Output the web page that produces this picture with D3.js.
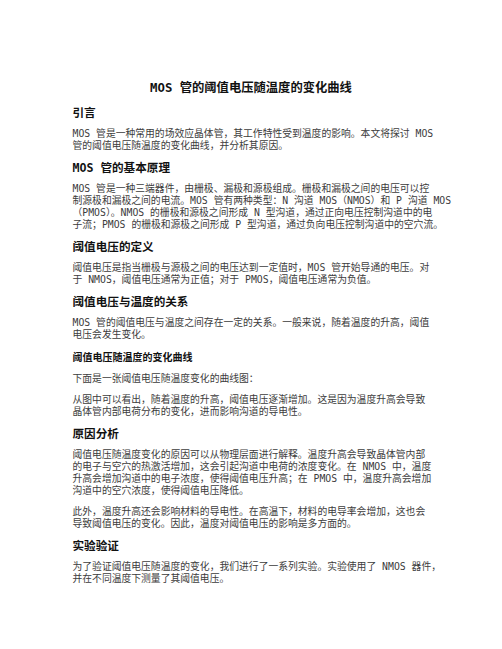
<!DOCTYPE html>
<html>
<head>
<meta charset="utf-8">
<script src="https://cdn.jsdelivr.net/npm/d3@7"></script>
<style>
  html, body { margin: 0; padding: 0; background: #fff; }
</style>
</head>
<body>
<div id="page"></div>
<script>
// page text, one array per block, lines kept as they wrap in the original
const title = "MOS 管的阈值电压随温度的变化曲线"

const introHead = "引言"
const introLines = [
    "MOS 管是一种常用的场效应晶体管，其工作特性受到温度的影响。本文将探讨 MOS",
    "管的阈值电压随温度的变化曲线，并分析其原因。"
]

const basicHead = "MOS 管的基本原理"
const basicLines = [
    "MOS 管是一种三端器件，由栅极、漏极和源极组成。栅极和漏极之间的电压可以控",
    "制源极和漏极之间的电流。MOS 管有两种类型：N 沟道 MOS（NMOS）和 P 沟道 MOS",
    "（PMOS）。NMOS 的栅极和源极之间形成 N 型沟道，通过正向电压控制沟道中的电",
    "子流；PMOS 的栅极和源极之间形成 P 型沟道，通过负向电压控制沟道中的空穴流。"
]

const defHead = "阈值电压的定义"
const defLines = [
    "阈值电压是指当栅极与源极之间的电压达到一定值时，MOS 管开始导通的电压。对",
    "于 NMOS，阈值电压通常为正值；对于 PMOS，阈值电压通常为负值。"
]

const relHead = "阈值电压与温度的关系"
const relLines = [
    "MOS 管的阈值电压与温度之间存在一定的关系。一般来说，随着温度的升高，阈值",
    "电压会发生变化。"
]

const curveHead = "阈值电压随温度的变化曲线"
const curveLines = ["下面是一张阈值电压随温度变化的曲线图："]
const curveNoteLines = [
    "从图中可以看出，随着温度的升高，阈值电压逐渐增加。这是因为温度升高会导致",
    "晶体管内部电荷分布的变化，进而影响沟道的导电性。"
]

const causeHead = "原因分析"
const causeLines = [
    "阈值电压随温度变化的原因可以从物理层面进行解释。温度升高会导致晶体管内部",
    "的电子与空穴的热激活增加，这会引起沟道中电荷的浓度变化。在 NMOS 中，温度",
    "升高会增加沟道中的电子浓度，使得阈值电压升高；在 PMOS 中，温度升高会增加",
    "沟道中的空穴浓度，使得阈值电压降低。"
]
const causeMoreLines = [
    "此外，温度升高还会影响材料的导电性。在高温下，材料的电导率会增加，这也会",
    "导致阈值电压的变化。因此，温度对阈值电压的影响是多方面的。"
]

const testHead = "实验验证"
const testLines = [
    "为了验证阈值电压随温度的变化，我们进行了一系列实验。实验使用了 NMOS 器件，",
    "并在不同温度下测量了其阈值电压。"
]

const blocks = [
    {type: "h2", text: introHead}, {type: "p", lines: introLines},
    {type: "h2", text: basicHead}, {type: "p", lines: basicLines},
    {type: "h2", text: defHead}, {type: "p", lines: defLines},
    {type: "h2", text: relHead}, {type: "p", lines: relLines},
    {type: "h3", text: curveHead}, {type: "p", lines: curveLines},
    {type: "p", lines: curveNoteLines},
    {type: "h2", text: causeHead}, {type: "p", lines: causeLines},
    {type: "p", lines: causeMoreLines},
    {type: "h2", text: testHead}, {type: "p", lines: testLines}
]

const drawPage = () => {
    let width = 502
    let height = 649
    let left = 72.5
    let lineHeight = 12
    let beforeHead = 22.8
    let afterHead = 20.5
    let betweenParas = 21

    const fontFamily = '"DejaVu Sans Mono", "Noto Sans CJK SC", sans-serif'

    // walk the blocks and give every line a y
    const rows = []
    let y = 87.5
    rows.push({kind: "title", text: title, y: y})
    y += 25
    let prev = "h"
    blocks.forEach((b, i) => {
        if (b.type === "p") {
            if (prev === "h") y += (i === 1 ? 20.5 : afterHead)
            else y += betweenParas
            b.lines.forEach((line, j) => {
                if (j > 0) y += lineHeight
                rows.push({kind: "p", text: line, y: y})
            })
            prev = "p"
        } else {
            if (i > 0) y += beforeHead
            rows.push({kind: b.type, text: b.text, y: y})
            prev = "h"
        }
    })

    const svg = d3.select("#page")
    .append("svg")
    .attr("width", width)
    .attr("height", height)

    svg.append("rect")
    .attr("width", width)
    .attr("height", height)
    .attr("fill", "#fff")

    const sizes = {title: 12.3, h2: 11.6, h3: 10, p: 9.8}

    svg.selectAll("text.row")
    .data(rows)
    .enter()
    .append("text")
    .attr("class", "row")
    .attr("x", (d) => d.kind === "title" ? width / 2 : left)
    .attr("y", (d) => d.y)
    .attr("text-anchor", (d) => d.kind === "title" ? "middle" : "start")
    .attr("dominant-baseline", "central")
    .attr("font-family", fontFamily)
    .attr("font-size", (d) => sizes[d.kind])
    .attr("font-weight", (d) => d.kind === "p" ? 400 : 700)
    .attr("fill", (d) => d.kind === "p" ? "#3c3c3c" : "#111")
    .attr("xml:space", "preserve")
    .text((d) => d.text)
}

drawPage()
</script>
</body>
</html>
